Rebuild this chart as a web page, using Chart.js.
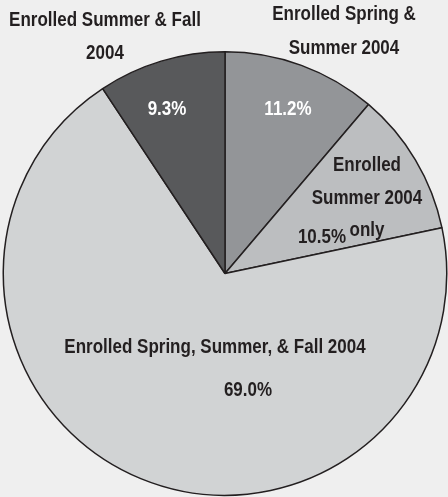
<!DOCTYPE html>
<html>
<head>
<meta charset="utf-8">
<script src="https://cdn.jsdelivr.net/npm/chart.js@4"></script>
<style>
  html, body { margin: 0; padding: 0; background: #efefef; }
  #wrap { width: 448px; height: 497px; }
</style>
</head>
<body>
<div id="wrap"><canvas id="pieChart"></canvas></div>
<script>
// Datos del gráfico (en sentido horario desde arriba)
const categories = [
  'Enrolled Spring & Summer 2004',
  'Enrolled Summer 2004 only',
  'Enrolled Spring, Summer, & Fall 2004',
  'Enrolled Summer & Fall 2004'
];
const shares = [11.2, 10.5, 69.0, 9.3];
const sliceColors = ['#939598', '#bcbec0', '#d1d3d4', '#58595b'];

const FONT = '"Liberation Sans", Arial, sans-serif';
const SQUEEZE = 0.85; // letra condensada

// Etiquetas: lineas de texto relativas al centro del pastel
const labelPlugin = {
  id: 'pieLabels',
  afterDatasetsDraw(chart) {
    const arc = chart.getDatasetMeta(0).data[0];
    const cx = arc.x, cy = arc.y;
    const ctx = chart.ctx;
    const pct = shares.map(v => v.toFixed(1) + '%');
    const items = [
      // [texto, dx, dy, color]
      ['Enrolled Summer & Fall', -120, -253, '#231f20'],
      ['2004', -120, -220, '#231f20'],
      ['Enrolled Spring &', 119, -259, '#231f20'],
      ['Summer 2004', 119, -225, '#231f20'],
      [pct[3], -58, -164, '#ffffff'],
      [pct[0], 63, -164, '#ffffff'],
      ['Enrolled', 142, -108, '#231f20'],
      ['Summer 2004', 142, -75, '#231f20'],
      ['only', 142, -43, '#231f20'],
      [pct[1], 97, -36, '#231f20'],
      [categories[2], -10, 74, '#231f20'],
      [pct[2], 23, 117, '#231f20']
    ];
    ctx.save();
    ctx.font = 'bold 20px ' + FONT;
    ctx.textAlign = 'center';
    ctx.textBaseline = 'middle';
    items.forEach(([t, dx, dy, c]) => {
      ctx.save();
      ctx.translate(cx + dx, cy + dy);
      ctx.scale(SQUEEZE, 1);
      ctx.fillStyle = c;
      ctx.fillText(t, 0, 0);
      ctx.restore();
    });
    ctx.restore();
  }
};

const ctx = document.getElementById('pieChart').getContext('2d');
const pieChart = new Chart(ctx, {
  type: 'pie',
  data: {
    labels: categories,
    datasets: [{
      data: shares,
      backgroundColor: sliceColors,
      borderColor: '#231f20',
      borderWidth: 1.5
    }]
  },
  options: {
    responsive: true,
    maintainAspectRatio: false,
    animation: false,
    layout: { padding: { top: 51, bottom: 1, left: 2, right: 0 } },
    plugins: {
      legend: { display: false },
      tooltip: { enabled: false }
    }
  },
  plugins: [labelPlugin]
});
</script>
</body>
</html>
